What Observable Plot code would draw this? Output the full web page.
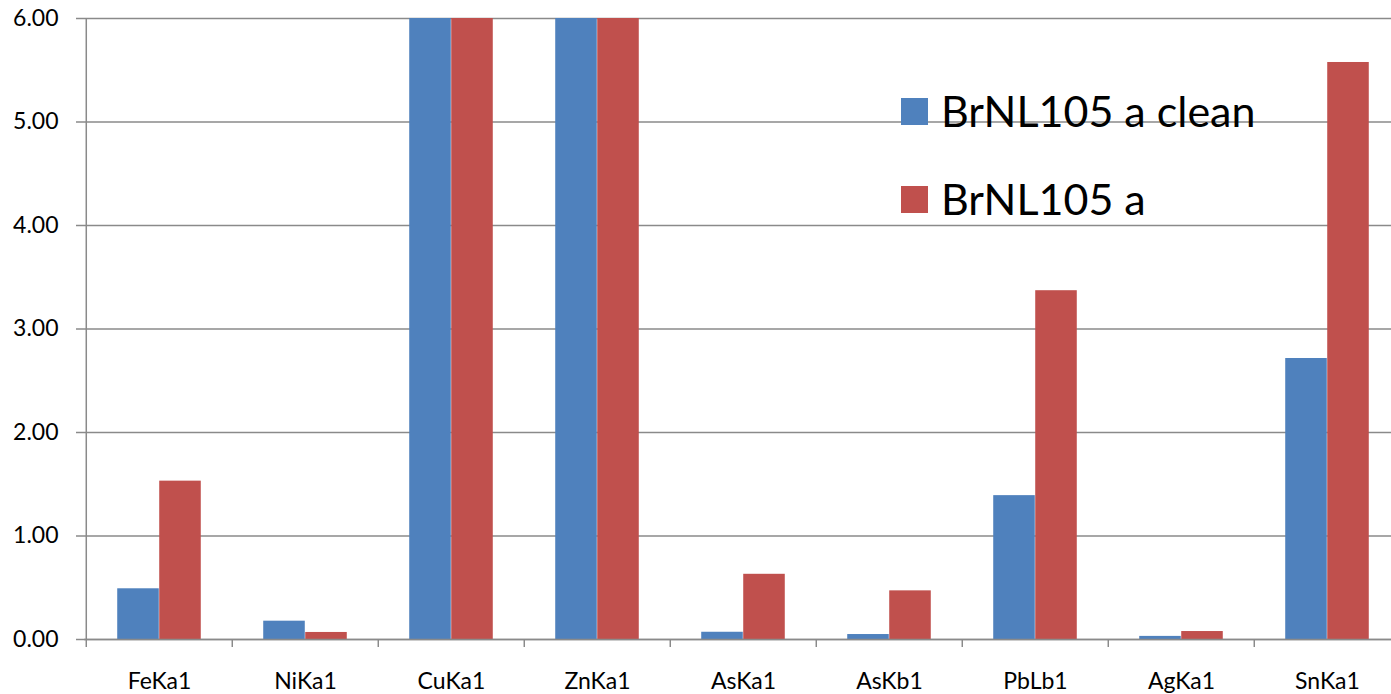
<!DOCTYPE html>
<html>
<head>
<meta charset="utf-8">
<script src="https://cdn.jsdelivr.net/npm/d3@7"></script>
<script src="https://cdn.jsdelivr.net/npm/@observablehq/plot@0.6"></script>
<style>
  html, body { margin: 0; padding: 0; background: #fff; overflow: hidden; width: 1391px; height: 694px; }
  #wrap { position: relative; width: 1391px; height: 694px; overflow: hidden; }
  #wrap svg { max-width: none !important; }
  .leg { position: absolute; font-family: Lato, "Open Sans", sans-serif; font-size: 43px; color: #000; line-height: 1; white-space: nowrap; }
  .leg .sw { position: absolute; left: 0; width: 27px; height: 27px; }
  .leg span.t { position: absolute; left: 40px; top: -9px; }
</style>
</head>
<body>
<div id="wrap"></div>
<script>
const categories = ["FeKa1", "NiKa1", "CuKa1", "ZnKa1", "AsKa1", "AsKb1", "PbLb1", "AgKa1", "SnKa1"];
const seriesNames = ["BrNL105 a clean", "BrNL105 a"];
// values above 6.00 are cut off in the reference (CuKa1, ZnKa1)
const cleanValues = [0.49, 0.177, 20, 20, 0.07, 0.048, 1.39, 0.03, 2.715];
const rawValues   = [1.53, 0.068, 20, 20, 0.63, 0.47, 3.37, 0.077, 5.575];
const yTicks = [0, 1, 2, 3, 4, 5, 6];
const colors = ["#4F81BD", "#C0504D"];

const rows = [];
categories.forEach((c, i) => {
  rows.push({cat: c, series: seriesNames[0], value: cleanValues[i]});
  rows.push({cat: c, series: seriesNames[1], value: rawValues[i]});
});

const W = 1402, H = 694, mL = 84, mT = 18, mB = 55;
const band = (W - mL) / categories.length;
const barW = 42;
const outer = (band - 2 * barW) / 2;
const gray = "#8a8a8a";

const chart = Plot.plot({
  width: W,
  height: H,
  marginLeft: mL,
  marginRight: 0,
  marginTop: mT,
  marginBottom: mB,
  style: {fontFamily: "Lato, 'Open Sans', sans-serif", fontSize: "23px", color: "#000", background: "#fff", maxWidth: "none"},
  x: {type: "band", domain: categories, padding: 0, label: null},
  y: {domain: [0, 6], label: null},
  color: {domain: seriesNames, range: colors},
  marks: [
    Plot.ruleY(yTicks, {stroke: gray, strokeWidth: 1.5}),
    Plot.barY(rows.filter(d => d.series === seriesNames[0]), {
      x: "cat", y: "value", fill: "series", clip: true,
      insetLeft: outer, insetRight: band - outer - barW
    }),
    Plot.barY(rows.filter(d => d.series === seriesNames[1]), {
      x: "cat", y: "value", fill: "series", clip: true,
      insetLeft: outer + barW, insetRight: outer
    }),
    Plot.ruleX([categories[0]], {y1: 0, y2: 6, dx: -band / 2, stroke: gray, strokeWidth: 1.5}),
    Plot.ruleY([0], {stroke: gray, strokeWidth: 1.5}),
    Plot.axisY({ticks: yTicks, tickFormat: d3.format(".2f"), tickSize: 8, tickPadding: 18, stroke: gray, strokeWidth: 1.5, fill: "#000", label: null}),
    Plot.axisX({tickSize: 8, dx: -band / 2, text: null, stroke: gray, strokeWidth: 1.5, label: null}),
    Plot.axisX({tickSize: 0, tickPadding: 33, fill: "#000", label: null})
  ]
});

const wrap = document.getElementById("wrap");
wrap.appendChild(chart);

// legend (inside plot area, as in the reference)
const legendTops = [98, 186];
seriesNames.forEach((name, i) => {
  const d = document.createElement("div");
  d.className = "leg";
  d.style.left = "901px";
  d.style.top = legendTops[i] + "px";
  d.innerHTML = `<div class="sw" style="background:${colors[i]}"></div><span class="t">${name}</span>`;
  wrap.appendChild(d);
});
</script>
</body>
</html>
